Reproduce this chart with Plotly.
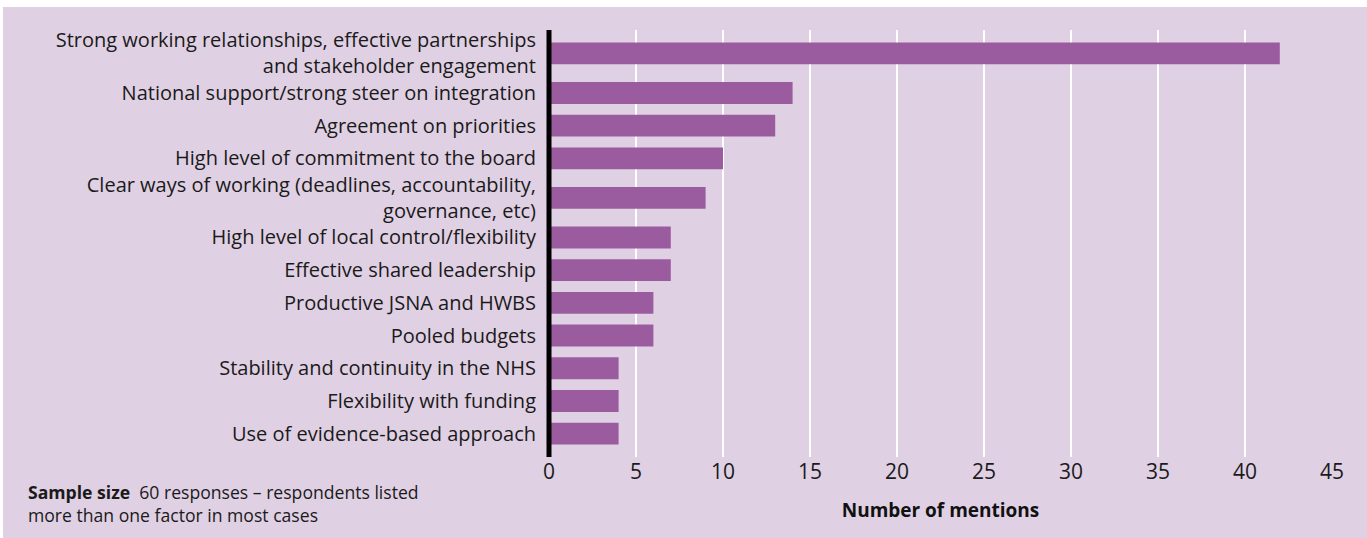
import plotly.graph_objects as go

# Factors cited as helping the board work well, top to bottom
factors = [
    "Strong working relationships, effective partnerships<br>and stakeholder engagement",
    "National support/strong steer on integration",
    "Agreement on priorities",
    "High level of commitment to the board",
    "Clear ways of working (deadlines, accountability,<br>governance, etc)",
    "High level of local control/flexibility",
    "Effective shared leadership",
    "Productive JSNA and HWBS",
    "Pooled budgets",
    "Stability and continuity in the NHS",
    "Flexibility with funding",
    "Use of evidence-based approach",
]
mentions = [42, 14, 13, 10, 9, 7, 7, 6, 6, 4, 4, 4]

x_ticks = [0, 5, 10, 15, 20, 25, 30, 35, 40, 45]
x_title = "Number of mentions"
note = "<b>Sample size</b>  60 responses \u2013 respondents listed<br>more than one factor in most cases"

BG = "#e0d0e4"
BAR = "#9b5c9f"
FONT = "'Open Sans', 'Noto Sans', sans-serif"

# Row slots: two-line labels get a taller slot so rows don't crowd
EXTRA_PER_LINE = 0.42
positions = []
cur = 0.0
prev_half = None
for lab in factors:
    half = 0.5 * (1 + EXTRA_PER_LINE * lab.count("<br>"))
    if prev_half is not None:
        cur += prev_half + half
    positions.append(cur)
    prev_half = half

PAD = 0.715
y_range = [positions[-1] + PAD, positions[0] - PAD]

W, H = 1367, 538
M_L, M_R, M_T, M_B = 549, 35, 30, 81
plot_w = W - M_L - M_R
plot_h = H - M_T - M_B


def px_x(px):
    return (px - M_L) / plot_w


def px_y(py):
    return (H - M_B - py) / plot_h


fig = go.Figure(
    go.Bar(
        x=mentions,
        y=positions,
        orientation="h",
        width=0.67,
        marker=dict(color=BAR, line=dict(width=0)),
        hoverinfo="skip",
    )
)

fig.update_layout(
    width=W,
    height=H,
    margin=dict(l=M_L, r=M_R, t=M_T, b=M_B, pad=0),
    paper_bgcolor=BG,
    plot_bgcolor=BG,
    showlegend=False,
    font=dict(family=FONT, color="#1a1a1a", size=20),
    xaxis=dict(
        range=[0, max(x_ticks)],
        tickvals=x_ticks,
        showgrid=True,
        gridcolor="white",
        gridwidth=1.5,
        zeroline=False,
        showline=False,
        ticks="",
        ticklabelstandoff=0,
        tickfont=dict(size=21, family=FONT, color="#1a1a1a"),
        title=dict(
            text="<b>" + x_title + "</b>",
            font=dict(size=19, family=FONT, color="#111111"),
            standoff=19,
        ),
        fixedrange=True,
    ),
    yaxis=dict(
        range=y_range,
        tickvals=positions,
        ticktext=factors,
        showgrid=False,
        zeroline=False,
        showline=False,
        ticks="",
        ticklabelstandoff=12,
        tickfont=dict(size=20, family=FONT, color="#1a1a1a"),
        fixedrange=True,
    ),
    shapes=[
        # white strips along the top and left edges of the panel
        dict(type="rect", xref="paper", yref="paper", x0=-1, x1=2,
             y0=px_y(7), y1=px_y(-5), fillcolor="white", line=dict(width=0),
             layer="below"),
        dict(type="rect", xref="paper", yref="paper", x0=px_x(-5), x1=px_x(3),
             y0=-1, y1=2, fillcolor="white", line=dict(width=0), layer="below"),
        # heavy baseline at zero (paper-referenced so it isn't clipped)
        dict(type="line", xref="paper", yref="paper", x0=0, x1=0, y0=0, y1=1,
             line=dict(color="black", width=5), layer="above"),
    ],
    annotations=[
        dict(
            text=note,
            xref="paper",
            yref="paper",
            x=px_x(26),
            y=px_y(478),
            xanchor="left",
            yanchor="top",
            align="left",
            showarrow=False,
            font=dict(size=17.6, family=FONT, color="#1a1a1a"),
        )
    ],
)

fig.write_html("out.html", config={"displayModeBar": False})
